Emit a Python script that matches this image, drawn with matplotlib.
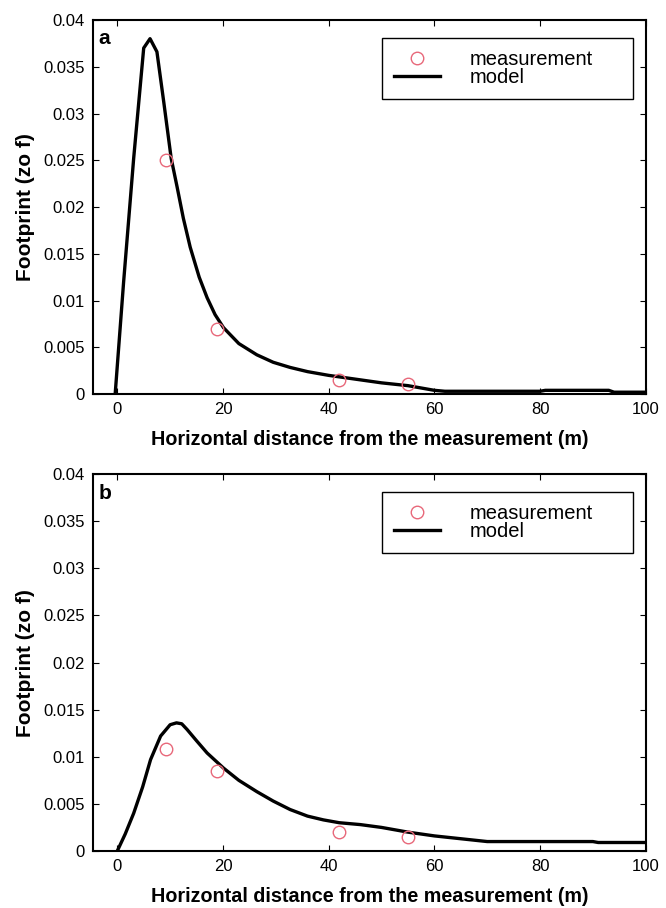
import matplotlib
matplotlib.use('Agg')
import matplotlib.pyplot as plt
from matplotlib.ticker import FuncFormatter

plt.rcParams['font.family'] = ['Liberation Sans', 'DejaVu Sans']

# measured footprint values
meas_x = [9.3, 18.9, 42, 55]
meas_a = [0.025, 0.0070, 0.0015, 0.0011]
meas_b = [0.0108, 0.0085, 0.0020, 0.0015]

# modelled footprint, case a
model_a_x = [-0.4, 1.2, 3.1, 5.0, 6.2, 7.5, 8.8, 10.2, 11.3, 12.5, 13.8, 15.5, 17.0, 18.5, 20.1,
             23.0, 26.4, 29.5, 32.7, 36, 40, 45, 50, 55, 58, 60, 62, 70, 80, 81, 93, 94, 100]
model_a_y = [0.0, 0.012, 0.0252, 0.0370, 0.0380, 0.0366, 0.0312, 0.0252, 0.0222, 0.0188, 0.0157,
             0.0125, 0.0103, 0.0085, 0.0071, 0.0054, 0.0042, 0.0034, 0.00285, 0.0024, 0.0020,
             0.0016, 0.0012, 0.0009, 0.0006, 0.0004, 0.0003, 0.0003, 0.0003, 0.0004, 0.0004,
             0.0002, 0.0002]

# modelled footprint, case b
model_b_x = [0.0, 1.5, 3.1, 4.8, 6.3, 8.2, 10.0, 11.2, 12.2, 13.2, 15.0, 17.0, 20.1, 23.0, 26.4,
             29.5, 32.7, 36, 39, 42, 46, 50, 55, 60, 65, 70, 80, 90, 91, 100]
model_b_y = [0.0, 0.0018, 0.0040, 0.0068, 0.0097, 0.0122, 0.0134, 0.0136, 0.0135, 0.0129, 0.0117,
             0.0104, 0.0088, 0.0075, 0.0063, 0.0053, 0.0044, 0.0037, 0.0033, 0.0030, 0.0028,
             0.0025, 0.0020, 0.0016, 0.0013, 0.0010, 0.0010, 0.0010, 0.0009, 0.0009]

panels = [('a', model_a_x, model_a_y, meas_a), ('b', model_b_x, model_b_y, meas_b)]

fig = plt.figure(figsize=(6.66, 9.08), dpi=100)
axes = [fig.add_axes([0.1396, 0.566, 0.830, 0.412]),
        fig.add_axes([0.1396, 0.0628, 0.830, 0.415])]

for ax, (tag, mx, my, meas) in zip(axes, panels):
    ax.plot(meas_x, meas, 'o', mfc='none', mec='#e8687a', ms=9, mew=1.0,
            label='measurement', zorder=3)
    ax.plot(mx, my, color='black', lw=2.4, label='model', zorder=2)
    ax.set_xlim(-4.6, 100)
    ax.set_ylim(0, 0.04)
    ax.set_xticks([0, 20, 40, 60, 80, 100])
    ax.set_yticks([i * 0.005 for i in range(9)])
    ax.yaxis.set_major_formatter(FuncFormatter(lambda v, p: '%g' % round(v, 4)))
    ax.tick_params(direction='in', top=True, right=True, length=4, width=0.8,
                   labelsize=12, pad=6)
    for s in ax.spines.values():
        s.set_linewidth(1.5)
    ax.set_xlabel('Horizontal distance from the measurement (m)', fontsize=14.2,
                  fontweight='bold', labelpad=9)
    ax.set_ylabel('Footprint (zo f)', fontsize=15, fontweight='bold', labelpad=6)
    ax.text(0.01, 0.975, tag, transform=ax.transAxes, va='top', ha='left',
            fontsize=15, fontweight='bold')
    leg = ax.legend(loc='upper left', bbox_to_anchor=(0.5226, 0.0, 0.4539, 0.952),
                    mode='expand', fontsize=14.5, fancybox=False, edgecolor='black',
                    framealpha=1, handlelength=2.3, handletextpad=1.45,
                    labelspacing=-0.05, borderpad=0.6, borderaxespad=0)
    leg.get_frame().set_linewidth(1.0)

fig.savefig('out.png', dpi=100)
